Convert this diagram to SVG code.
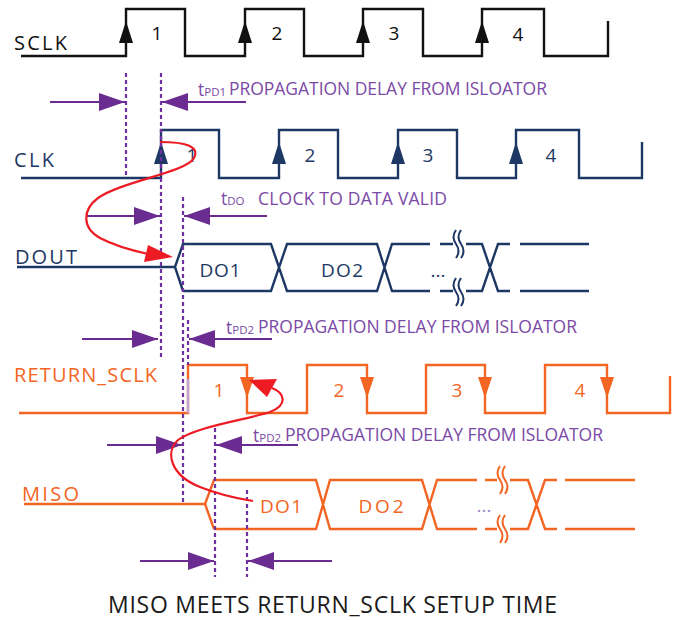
<svg xmlns="http://www.w3.org/2000/svg" width="682" height="620" viewBox="0 0 682 620">
<defs>
<style>
.lbl{font-family:"Open Sans","Liberation Sans",sans-serif;font-size:20px}
.num{font-family:"Open Sans","Liberation Sans",sans-serif;font-size:19px;text-anchor:middle}
.pt{font-family:"Open Sans","Liberation Sans",sans-serif;font-size:17.5px;fill:#7b4aa6}
.sub{font-size:11.5px}
.cap{font-family:"Open Sans","Liberation Sans",sans-serif;font-size:23px;fill:#1a1a1a}
.wave{fill:none;stroke-width:2.4;stroke-linejoin:miter}
.blk{stroke:#111}
.navy{stroke:#1d3864}
.org{stroke:#f26522}
.dash{stroke:#7030a0;stroke-width:2.2;stroke-dasharray:4 3;fill:none}
.parr{stroke:#6b2c91;stroke-width:2.2;fill:none;marker-end:url(#pa)}
.red{stroke:#ed1c24;stroke-width:2.2;fill:none}
</style>
<marker id="pa" markerUnits="userSpaceOnUse" markerWidth="27" markerHeight="18" refX="26" refY="9" orient="auto" viewBox="0 0 27 18"><path d="M0,0 L26,9 L0,18 z" fill="#6b2c91"/></marker>
<path id="up" d="M0,0 L7,22 L-7,22 z"/>
<path id="dn" d="M0,0 L7,-21 L-7,-21 z"/>
<path id="brk" d="M0,-14 q-5,7 0,14 q5,7 0,14 M5,-14 q-5,7 0,14 q5,7 0,14"/>
</defs>

<g id="sclk">
<path class="wave blk" d="M21,56 H126 V9 H185 V56 H245 V9 H304 V56 H363 V9 H423 V56 H482 V9 H544 V56 H608 V21"/>
<g fill="#111"><use href="#up" x="126" y="21"/><use href="#up" x="245" y="21"/><use href="#up" x="363" y="21"/><use href="#up" x="482" y="21"/></g>
<text class="lbl" x="14" y="50" fill="#111" textLength="53">SCLK</text>
<g class="num" fill="#111"><text x="157" y="40">1</text><text x="277" y="40">2</text><text x="394" y="40">3</text><text x="518" y="41">4</text></g>
</g>

<g id="clk">
<path class="wave navy" d="M21,178 H161 V130 H219 V178 H279 V130 H338 V178 H398 V130 H457 V178 H516 V130 H579 V178 H642 V142"/>
<g fill="#1d3864"><use href="#up" x="161" y="142"/><use href="#up" x="279" y="142"/><use href="#up" x="398" y="142"/><use href="#up" x="516" y="142"/></g>
<text class="lbl" x="14" y="167" fill="#1d3864" textLength="40">CLK</text>
<g class="num" fill="#1d3864"><text x="192" y="162">1</text><text x="310" y="162">2</text><text x="428" y="162">3</text><text x="551" y="162">4</text></g>
</g>

<g id="dout">
<path class="wave navy" d="M17,267 H175 L183,244 H271 L287,291 H377 L392,244 H430 M183,291 L175,267 M183,291 H271 L287,244 H377 L392,291 H430 M440,244 H453 M466,244 H482 L498,291 H510 M440,291 H453 M466,291 H482 L498,244 H510 M520,244 H589 M520,291 H589"/>
<g fill="none" stroke="#1d3864" stroke-width="2"><use href="#brk" x="456" y="244"/><use href="#brk" x="456" y="292"/></g>
<text class="lbl" x="15" y="264" fill="#1d3864" textLength="62">DOUT</text>
<g class="num" fill="#1d3864"><text x="220" y="277" textLength="41">DO1</text><text x="342" y="277" textLength="42">DO2</text><text x="438" y="277">...</text></g>
</g>

<g id="return_sclk">
<path class="wave org" d="M19,413 H188 V365 H247 V413 H307 V365 H367 V413 H426 V365 H485 V413 H545 V365 H607 V413 H670 V376"/>
<line x1="188" y1="379" x2="188" y2="413" stroke="#bfa6d6" stroke-width="2.4"/>
<g fill="#f26522"><use href="#dn" x="247" y="398"/><use href="#dn" x="367" y="398"/><use href="#dn" x="485" y="398"/><use href="#dn" x="607" y="398"/></g>
<text class="lbl" x="14" y="382" fill="#f26522" textLength="143">RETURN_SCLK</text>
<g class="num" fill="#f26522"><text x="219" y="397">1</text><text x="339" y="397">2</text><text x="457" y="397">3</text><text x="580" y="397">4</text></g>
</g>

<g id="miso">
<path class="wave org" d="M24,504 H205 L214,480 H316 L330,529 H422 L437,480 H477 M214,529 L205,504 M214,529 H316 L330,480 H422 L437,529 H477 M485,480 H497 M510,480 H528 L545,529 H557 M485,529 H497 M510,529 H528 L545,480 H557 M565,480 H635 M565,529 H635"/>
<g fill="none" stroke="#f26522" stroke-width="2"><use href="#brk" x="500" y="480"/><use href="#brk" x="500" y="529"/></g>
<text class="lbl" x="22" y="501" fill="#f26522" textLength="57">MISO</text>
<g class="num" fill="#f26522"><text x="281" y="513" textLength="42">DO1</text><text x="381" y="513" textLength="45">DO2</text></g>
<text class="num" x="484" y="512" fill="#9e86c8" font-size="15">...</text>
</g>

<g id="timing">
<path class="dash" d="M126,73 V175 M161,73 V360 M183,197 V503 M188,320 V365 M215,428 V577 M247,490 V577"/>
<path class="parr" d="M50,102 H125"/><path class="parr" d="M246,102 H162"/>
<path class="parr" d="M87,216 H160"/><path class="parr" d="M267,216 H184"/>
<path class="parr" d="M82,339 H158"/><path class="parr" d="M272,339 H189"/>
<path class="parr" d="M107,445 H182"/><path class="parr" d="M298,445 H216"/>
<path class="parr" d="M140,561 H214"/><path class="parr" d="M332,561 H248"/>
<text class="pt" x="198" y="96">t<tspan class="sub">PD1</tspan></text>
<text class="pt" x="229" y="95" textLength="318">PROPAGATION DELAY FROM ISLOATOR</text>
<text class="pt" x="221" y="205">t<tspan class="sub">DO</tspan></text>
<text class="pt" x="258" y="205" textLength="189">CLOCK TO DATA VALID</text>
<text class="pt" x="226" y="334">t<tspan class="sub" font-size="12.5px">PD2</tspan></text>
<text class="pt" x="258" y="333" textLength="319">PROPAGATION DELAY FROM ISLOATOR</text>
<text class="pt" x="253" y="442">t<tspan class="sub" font-size="12.5px">PD2</tspan></text>
<text class="pt" x="285" y="441" textLength="318">PROPAGATION DELAY FROM ISLOATOR</text>
</g>

<g id="connectors">
<path class="red" d="M160,142 C185,142 200,146 194,158 C187,172 120,182 98,198 C82,210 82,228 100,238 C115,246 130,250 148,254"/>
<polygon points="173,257 148,245 144,262" fill="#ed1c24"/>
<path class="red" d="M272,388 C285,393 288,405 270,412 C245,420 195,427 178,440 C165,452 170,475 200,487 C220,495 240,499 253,501"/>
<polygon points="249,380 277,379 267,397" fill="#ed1c24"/>
</g>

<text class="cap" x="108" y="613" textLength="449">MISO MEETS RETURN_SCLK SETUP TIME</text>
</svg>
